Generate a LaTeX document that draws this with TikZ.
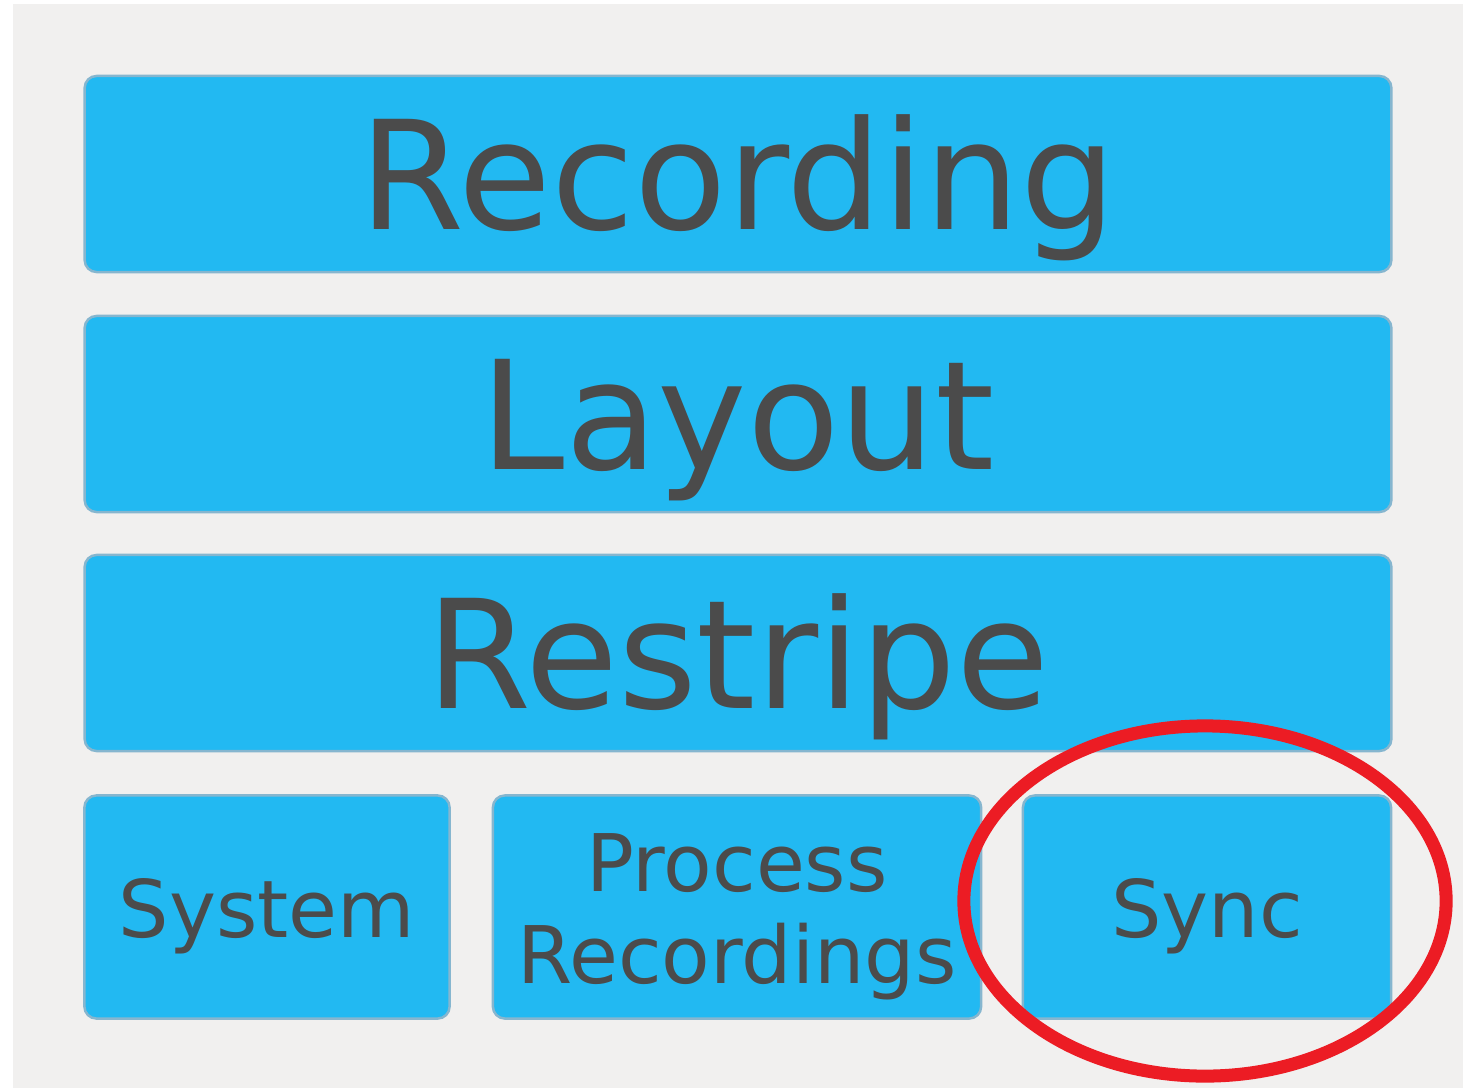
\documentclass[tikz,border=0pt]{standalone}
\usepackage{fontspec}
\setmainfont{DejaVu Sans}
\definecolor{panelgray}{HTML}{F1F0EF}
\definecolor{buttonblue}{HTML}{22B9F2}
\definecolor{buttonedge}{HTML}{86B6CF}
\definecolor{labelgray}{HTML}{4B4B4B}
\definecolor{markred}{HTML}{EC1C24}

\begin{document}
\begin{tikzpicture}[x=0.01cm, y=-0.01cm,
    button/.style={draw=buttonedge, fill=buttonblue, line width=0.7pt, rounded corners=1.2mm,
        text=labelgray, inner sep=0pt, align=center, text depth=0pt},
    bigbutton/.style={button, minimum width=13.06cm, minimum height=1.96cm, text height=31.8pt,
        font=\fontsize{43}{43}\selectfont},
    smallbutton/.style={button, minimum height=2.23cm, text height=17.6pt,
        font=\fontsize{22.6}{26.2}\selectfont}]
        \useasboundingbox (0,0) rectangle (1473,1088);
        \fill[white] (0,0) rectangle (1473,1088);
        \fill[panelgray] (13,4) rectangle (1463,1088);
        \node[bigbutton] (recording) at (738,174) {Recording};
        \node[bigbutton] (layout) at (738,414) {Layout};
        \node[bigbutton] (restripe) at (738,653) {Restripe};
        \node[smallbutton, minimum width=3.65cm] (system) at (267,907) {System};
        \node[smallbutton, minimum width=4.88cm, text height=43.3pt] (process) at (737,907) {Process\\Recordings};
        \node[smallbutton, minimum width=3.68cm] (sync) at (1207,907) {Sync};
        \draw[markred, line width=3.7pt] ([shift={(-2,-6)}]sync.center) ellipse [x radius=2.41cm, y radius=1.75cm];
\end{tikzpicture}
\end{document}
